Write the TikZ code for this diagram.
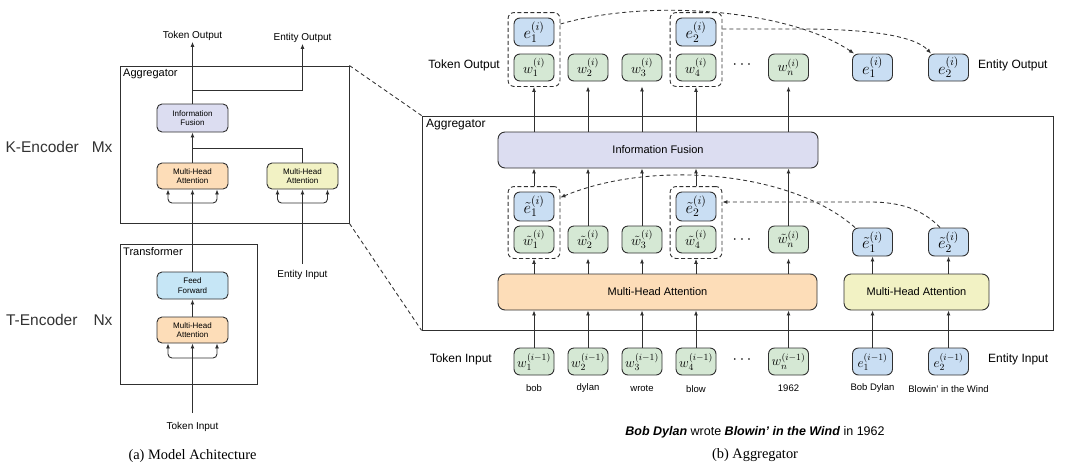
\RequirePackage{fix-cm}
\documentclass[tikz,border=0pt]{standalone}
\usepackage{fontspec}
\setmainfont{Liberation Sans}
\newfontfamily\capfont{Liberation Serif}
\usetikzlibrary{arrows.meta,fit,calc}
\definecolor{lineC}{HTML}{303030}
\definecolor{grnF}{HTML}{D5E8D4}
\definecolor{bluF}{HTML}{C9DEF3}
\definecolor{lavF}{HTML}{DCDDF1}
\definecolor{orgF}{HTML}{FDDDB8}
\definecolor{yelF}{HTML}{F2F2C4}
\definecolor{cyaF}{HTML}{C6E6F6}
\definecolor{kC}{HTML}{333333}
\begin{document}
\begin{tikzpicture}[x=1pt,y=-1pt,
  bx/.style={draw=lineC, line width=0.9pt, rounded corners=5pt, inner sep=0pt, align=center},
  frame/.style={draw=lineC, line width=0.9pt, inner sep=0pt},
  smallfs/.style={font=\fontsize{8}{9.5}\selectfont},
  sw/.style={bx, fill=grnF, minimum width=40pt, minimum height=27pt, rounded corners=6pt, font=\fontsize{14}{14}\selectfont},
  swi/.style={sw, font=\fontsize{13.5}{14}\selectfont},
  se/.style={bx, fill=bluF, minimum width=40pt, minimum height=28pt, rounded corners=6pt, font=\fontsize{16.5}{16.5}\selectfont},
  sei/.style={bx, fill=bluF, minimum width=40pt, minimum height=27pt, rounded corners=6pt, font=\fontsize{13.5}{14}\selectfont},
  grp/.style={draw=lineC, line width=0.9pt, dash pattern=on 4pt off 2.5pt, rounded corners=6pt, inner xsep=5.5pt, inner ysep=5pt},
  arr/.style={draw=lineC, line width=0.9pt, -{Latex[length=5pt,width=4pt]}},
  ln/.style={draw=lineC, line width=0.9pt},
  dasharr/.style={draw=lineC, line width=0.85pt, dash pattern=on 4pt off 3pt, -{Latex[length=5pt,width=4pt]}},
  dashln/.style={draw=lineC, line width=0.85pt, dash pattern=on 4pt off 3pt},
  lab10/.style={font=\fontsize{10}{12}\selectfont, inner sep=1pt},
  lab11/.style={font=\fontsize{11}{13}\selectfont, inner sep=1pt},
  lab12/.style={font=\fontsize{12}{14}\selectfont, inner sep=1pt},
  lab9/.style={font=\fontsize{9.5}{11}\selectfont, inner sep=1pt},
  big/.style={font=\fontsize{11}{13}\selectfont},
]
\useasboundingbox (0,0) rectangle (1073,472);

% ================= LEFT PANEL =================
\node[frame, minimum width=229pt, minimum height=157pt] (aggL) at (234.5,144.5) {};
\node[lab11, anchor=north west] (aggLt) at (122,68) {Aggregator};
\node[bx, fill=lavF, minimum width=71pt, minimum height=28pt, smallfs] (ifL) at (192.5,118) {Information\\Fusion};
\node[bx, fill=orgF, minimum width=71pt, minimum height=26pt, smallfs] (mhaL1) at (192.5,176) {Multi-Head\\Attention};
\node[bx, fill=yelF, minimum width=71pt, minimum height=26pt, smallfs] (mhaL2) at (302.5,176) {Multi-Head\\Attention};
\node[lab10] (tokOutL) at (192.5,36) {Token Output};
\node[lab10] (entOutL) at (302.5,38) {Entity Output};

\node[frame, minimum width=137pt, minimum height=140pt] (trL) at (188.5,314) {};
\node[lab11, anchor=north west] (trLt) at (122,246) {Transformer};
\node[bx, fill=cyaF, minimum width=71pt, minimum height=27pt, smallfs] (ffL) at (192.5,285.5) {Feed\\Forward};
\node[bx, fill=orgF, minimum width=71pt, minimum height=26pt, smallfs] (mhaL3) at (192.5,330) {Multi-Head\\Attention};
\node[lab10] (tokInL) at (192.5,427) {Token Input};
\node[lab10] (entInL) at (302.5,275) {Entity Input};

\node[anchor=east, font=\fontsize{15.5}{18}\selectfont, text=kC] (kenc) at (116,147) {K-Encoder\hspace{13pt}Mx};
\node[anchor=east, font=\fontsize{15.5}{18}\selectfont, text=kC] (tenc) at (116,320) {T-Encoder\hspace{16pt}Nx};

\node[font=\capfont\fontsize{14.4}{16}\selectfont] (capA) at (192.5,456) {(a) Model Achitecture};

% left connectors
\coordinate (jL1) at (192.5,90);
\coordinate (jL2) at (192.5,148);
\coordinate (bL1) at (192.5,203);
\coordinate (bL2) at (302.5,203);
\coordinate (bL3) at (192.5,358);
\draw[arr] (ifL.north) -- (tokOutL.south);
\draw[arr] (jL1) -| (entOutL.south);
\draw[arr] (mhaL1.north) -- (ifL.south);
\draw[ln] (mhaL2.north) |- (jL2);
\draw[arr] (ffL.north) -- (mhaL1.south);
\draw[arr, rounded corners=4pt] (bL1) -| ([xshift=-24.5pt]mhaL1.south);
\draw[arr, rounded corners=4pt] (bL1) -| ([xshift=24.5pt]mhaL1.south);
\draw[arr, shorten <=5pt] (entInL.north) -- (mhaL2.south);
\draw[arr, rounded corners=4pt] (bL2) -| ([xshift=-25pt]mhaL2.south);
\draw[arr, rounded corners=4pt] (bL2) -| ([xshift=25pt]mhaL2.south);
\draw[arr] (mhaL3.north) -- (ffL.south);
\draw[arr, shorten <=8pt] (tokInL.north) -- (mhaL3.south);
\draw[arr, rounded corners=4pt] (bL3) -| ([xshift=-24.5pt]mhaL3.south);
\draw[arr, rounded corners=4pt] (bL3) -| ([xshift=24.5pt]mhaL3.south);

% ================= RIGHT PANEL =================
\node[frame, minimum width=631pt, minimum height=214pt] (aggR) at (737.5,223) {};
\node[lab12, anchor=north west] (aggRt) at (425,118) {Aggregator};
\node[bx, fill=lavF, minimum width=320pt, minimum height=36pt, rounded corners=7pt, big] (if) at (658,150) {Information Fusion};
\node[bx, fill=orgF, minimum width=319pt, minimum height=36pt, rounded corners=7pt, big] (mha) at (657.5,292) {Multi-Head Attention};
\node[bx, fill=yelF, minimum width=145pt, minimum height=36pt, rounded corners=7pt, big] (mhaY) at (916.5,292) {Multi-Head Attention};

% top row (outputs)
\node[sw] (wo1) at (534,67.5) {$w_1^{(i)}$};
\node[sw] (wo2) at (588,67.5) {$w_2^{(i)}$};
\node[sw] (wo3) at (642,67.5) {$w_3^{(i)}$};
\node[sw] (wo4) at (696,67.5) {$w_4^{(i)}$};
\node[sw] (won) at (788.5,67.5) {$w_n^{(i)}$};
\node[se] (eo1) at (534,32) {$e_1^{(i)}$};
\node[se] (eo2) at (696,32) {$e_2^{(i)}$};
\node[se, minimum height=27pt] (eo1R) at (872.5,67.5) {$e_1^{(i)}$};
\node[se, minimum height=27pt] (eo2R) at (948.5,67.5) {$e_2^{(i)}$};
\node[grp, fit=(eo1)(wo1)] (g1) {};
\node[grp, fit=(eo2)(wo4)] (g2) {};
\node[font=\fontsize{16}{16}\selectfont] (dots1) at (742,65) {$\cdots$};
\node[lab12, anchor=east] (tokOutR) at (501,65) {Token Output};
\node[lab12, anchor=west] (entOutR) at (977,65) {Entity Output};

% middle row
\node[sw] (wt1) at (534,239.5) {$\tilde{w}_1^{(i)}$};
\node[sw] (wt2) at (588,239.5) {$\tilde{w}_2^{(i)}$};
\node[sw] (wt3) at (642,239.5) {$\tilde{w}_3^{(i)}$};
\node[sw] (wt4) at (696,239.5) {$\tilde{w}_4^{(i)}$};
\node[sw] (wtn) at (788.5,239.5) {$\tilde{w}_n^{(i)}$};
\node[se, minimum height=29pt] (et1) at (534,206.5) {$\tilde{e}_1^{(i)}$};
\node[se, minimum height=29pt] (et2) at (696,206.5) {$\tilde{e}_2^{(i)}$};
\node[se] (et1R) at (872.5,242) {$\tilde{e}_1^{(i)}$};
\node[se] (et2R) at (948.5,242) {$\tilde{e}_2^{(i)}$};
\node[grp, fit=(et1)(wt1)] (g3) {};
\node[grp, fit=(et2)(wt4)] (g4) {};
\node[font=\fontsize{16}{16}\selectfont] (dots2) at (742,240) {$\cdots$};

% bottom row (inputs)
\node[swi] (wi1) at (534,361.5) {$w_1^{(i-1)}$};
\node[swi] (wi2) at (588,361.5) {$w_2^{(i-1)}$};
\node[swi] (wi3) at (642,361.5) {$w_3^{(i-1)}$};
\node[swi] (wi4) at (696,361.5) {$w_4^{(i-1)}$};
\node[swi] (win) at (788.5,361.5) {$w_n^{(i-1)}$};
\node[sei] (ei1) at (872.5,361.5) {$e_1^{(i-1)}$};
\node[sei] (ei2) at (948.5,361.5) {$e_2^{(i-1)}$};
\node[font=\fontsize{16}{16}\selectfont] (dots3) at (742,360) {$\cdots$};
\node[lab12, anchor=east] (tokInR) at (493,359) {Token Input};
\node[lab12, anchor=west] (entInR) at (987,359) {Entity Input};

\node[lab9] (l1) at (534,388) {bob};
\node[lab9] (l2) at (588,388) {dylan};
\node[lab9] (l3) at (642,388) {wrote};
\node[lab9] (l4) at (696,389) {blow};
\node[lab9] (l5) at (788.5,388) {1962};
\node[lab9] (l6) at (872.5,388) {Bob Dylan};
\node[lab9] (l7) at (948.5,389) {Blowin' in the Wind};

\node[font=\fontsize{12.5}{14}\selectfont] (sent) at (755,432) {\textbf{\textit{Bob Dylan}} wrote \textbf{\textit{Blowin' in the Wind}} in 1962};
\node[font=\capfont\fontsize{14.4}{16}\selectfont] (capB) at (755,455) {(b) Aggregator};

% right connectors
\draw[arr] (if.north -| wo1) -- (g1.south);
\draw[arr] (if.north -| wo2) -- ([yshift=-5pt]wo2.south);
\draw[arr] (if.north -| wo3) -- ([yshift=-5pt]wo3.south);
\draw[arr] (if.north -| wo4) -- (g2.south);
\draw[arr] (if.north -| won) -- ([yshift=-5pt]won.south);

\draw[arr] (g3.north) -- (if.south -| g3.north);
\draw[arr] (wt2.north) -- (if.south -| wt2.north);
\draw[arr] (wt3.north) -- (if.south -| wt3.north);
\draw[arr] (g4.north) -- (if.south -| g4.north);
\draw[arr] (wtn.north) -- (if.south -| wtn.north);

\draw[arr] (mha.north -| wt1) -- (g3.south);
\draw[arr] (mha.north -| wt2) -- ([yshift=-5pt]wt2.south);
\draw[arr] (mha.north -| wt3) -- ([yshift=-5pt]wt3.south);
\draw[arr] (mha.north -| wt4) -- (g4.south);
\draw[arr] (mha.north -| wtn) -- ([yshift=-5pt]wtn.south);
\draw[arr] (mhaY.north -| et1R) -- (et1R.south);
\draw[arr] (mhaY.north -| et2R) -- (et2R.south);

\draw[arr] (wi1.north) -- (mha.south -| wi1.north);
\draw[arr] (wi2.north) -- (mha.south -| wi2.north);
\draw[arr] (wi3.north) -- (mha.south -| wi3.north);
\draw[arr] (wi4.north) -- (mha.south -| wi4.north);
\draw[arr] (win.north) -- (mha.south -| win.north);
\draw[arr] (ei1.north) -- (mhaY.south -| ei1.north);
\draw[arr] (ei2.north) -- (mhaY.south -| ei2.north);

% dashed curves
\draw[dasharr] ($(g1.east |- eo1.center)+(0,-8)$) .. controls (650,-2) and (790,10) .. ([xshift=2pt]eo1R.north west);
\draw[dasharr] ($(g2.east |- eo2.center)+(0,-3)$) -- (800,29) .. controls (870,29) and (915,36) .. ([xshift=3pt]eo2R.north west);
\draw[dasharr] ([xshift=3pt]et1R.north west) .. controls (790,170) and (650,160) .. ($(g3.east |- et1.center)+(0,-9)$);
\draw[dasharr] ([xshift=12pt]et2R.north west) .. controls (925,212) and (905,202) .. (870,202) -- ($(g4.east |- et2.center)+(0,-4.5)$);

% zoom lines
\draw[dashln] (aggL.north east) -- (aggR.north west);
\draw[dashln] (aggL.south east) -- (aggR.south west);
\end{tikzpicture}
\end{document}
